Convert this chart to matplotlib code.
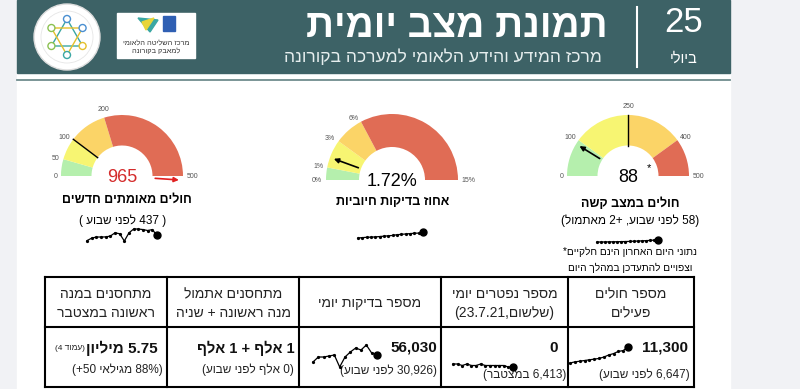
import re
import numpy as np
import matplotlib
matplotlib.use('Agg')
import matplotlib.pyplot as plt
from matplotlib.patches import Rectangle, Circle, Polygon

plt.rcParams['font.family'] = ['Liberation Sans', 'DejaVu Sans']

# ---------------- data ----------------
report_day = '25'
report_month = 'ביולי'
title = 'תמונת מצב יומית'
subtitle = 'מרכז המידע והידע הלאומי למערכה בקורונה'
logo_text = ['מרכז השליטה הלאומי', 'למאבק בקורונה']

# gauges: tick values and the dial angle (deg, 180 = left end) of each tick
cases_ticks = [0, 50, 100, 200, 500]
cases_angles = [180, 164, 143, 107, 0]
cases_value = 965
cases_mark = 100
cases_title = 'חולים מאומתים חדשים'
cases_sub = '( 437 לפני שבוע )'
cases_trend = [290, 420, 480, 480, 485, 530, 700, 650, 270, 700, 900, 900, 870, 820, 870, 560]

pos_ticks = [0, 1, 3, 6, 15]
pos_tick_labels = ['0%', '1%', '3%', '6%', '15%']
pos_angles = [180, 169, 144, 118, 0]
pos_value = 1.72
pos_title = 'אחוז בדיקות חיוביות'
pos_trend = [0.90, 0.95, 1.00, 1.02, 1.05, 1.10, 1.15, 1.20, 1.25, 1.35, 1.40, 1.45, 1.50, 1.55, 1.57, 1.72]

severe_ticks = [0, 100, 250, 400, 500]
severe_angles = [180, 144, 90, 36, 0]
severe_value = 88
severe_mark = 250
severe_title = 'חולים במצב קשה'
severe_sub = '(58 לפני שבוע, +2 מאתמול)'
severe_trend = [58, 58, 59, 60, 61, 62, 64, 65, 67, 70, 72, 75, 78, 82, 86, 88]
footnote = ['נתוני היום האחרון הינם חלקיים*', 'וצפויים להתעדכן במהלך היום']

# table (columns listed left to right as drawn)
col_heads = [['מתחסנים במנה', 'ראשונה במצטבר'],
             ['מתחסנים אתמול', 'מנה ראשונה + שניה'],
             ['מספר בדיקות יומי'],
             ['מספר נפטרים יומי', '(שלשום,23.7.21)'],
             ['מספר חולים', 'פעילים']]
col_values = ['5.75 מיליון', '1 אלף + 1 אלף', '56,030', '0', '11,300']
col_notes = ['(88% מגילאי 50+)', '(0 אלף לפני שבוע)', '(30,926 לפני שבוע)',
             '(6,413 במצטבר)', '(6,647 לפני שבוע)']
vacc_page = '(עמוד 4)'
tests_trend = [41, 51, 51, 53, 55, 31, 51, 61, 69, 65, 75, 59, 56]
deaths_trend = [2, 2, 1, 2, 1, 1, 2, 1, 1, 1, 1, 1, 0, 0]
active_trend = [5500, 5900, 6150, 6400, 6650, 6900, 7150, 7650, 8400, 8900, 9700, 10000, 11300]

band_colors = ['#b5efad', '#f7f572', '#fbd467', '#e06c55']

# ---------------- helpers ----------------
MIRROR = {'(': ')', ')': '('}


def rtl(s):
    # crude visual reordering for right-to-left text with embedded numbers
    toks = re.findall(r'\d(?:[\d.,]*\d)?%?|[A-Za-z]+|.', s)
    out = []
    for t in reversed(toks):
        if t[0].isascii() and t[0].isalnum():
            out.append(t)
        else:
            out.append(MIRROR.get(t, t))
    return ''.join(out)


W, H = 800, 389
fig = plt.figure(figsize=(W / 100, H / 100), dpi=100)
ax = fig.add_axes([0, 0, 1, 1])
ax.set_xlim(0, W)
ax.set_ylim(H, 0)
ax.axis('off')


def gauge(cx, cy, R, ticks, angles, value, text, labels=None, mark=None,
          needle='black', vcolor='black'):
    gx = fig.add_axes([(cx - 1.4 * R) / W, (H - cy - 0.4 * R) / H, 2.8 * R / W, 1.6 * R / H])
    spans = list(-np.diff(angles))
    gx.pie(spans + [180], startangle=180, counterclock=False, radius=1,
           colors=band_colors + ['none'], wedgeprops=dict(width=0.5, linewidth=0), frame=True)
    gx.set_xlim(-1.4, 1.4)
    gx.set_ylim(-0.4, 1.2)
    gx.axis('off')
    labels = labels or [str(t) for t in ticks]
    for lab, a in zip(labels, angles):
        c, s = np.cos(np.radians(a)), np.sin(np.radians(a))
        ha = 'right' if c < -0.3 else ('left' if c > 0.3 else 'center')
        va = 'bottom' if s > 0.9 else 'center'
        gx.text(1.06 * c, 1.06 * s + (0.02 if va == 'bottom' else 0), lab, ha=ha, va=va,
                fontsize=5, color='#555555')
    if mark is not None:
        a = np.radians(np.interp(mark, ticks, angles))
        gx.plot([0.5 * np.cos(a), np.cos(a)], [0.5 * np.sin(a), np.sin(a)], color='black', lw=1)
    a = np.interp(value, ticks, angles)
    if value > ticks[-1]:
        a = -4
    a = np.radians(a)
    gx.annotate('', xy=(0.98 * np.cos(a), 0.98 * np.sin(a)),
                xytext=(0.5 * np.cos(a), 0.5 * np.sin(a)),
                arrowprops=dict(arrowstyle='-|>', color=needle, lw=1.2, mutation_scale=7))
    gx.text(0, -0.02, text, ha='center', va='center', fontsize=13, color=vcolor)
    return gx


def spark(x0, x1, ytop, ybot, values):
    sx = fig.add_axes([x0 / W, 1 - ybot / H, (x1 - x0) / W, max(ybot - ytop, 1) / H])
    n = len(values)
    sx.plot(range(n), values, color='black', lw=0.9, marker='o', ms=1.3, clip_on=False)
    sx.plot([n - 1], [values[-1]], 'o', color='black', ms=5, clip_on=False)
    sx.set_xlim(0, n - 1)
    sx.set_ylim(min(values), max(values))
    sx.axis('off')


# ---------------- background / header ----------------
ax.add_patch(Rectangle((0, 0), W, H, color='#f1f2f5', zorder=0))
ax.add_patch(Rectangle((17, 0), 713, H, color='white', zorder=0))
ax.add_patch(Rectangle((17, 0), 713, 73, color='#3d6266', zorder=1))
ax.plot([17, 730], [80, 80], color='#6f8c8e', lw=1.3)

ax.text(684, 22, report_day, color='white', fontsize=25, ha='center', va='center')
ax.text(684, 59, rtl(report_month), color='white', fontsize=10.5, ha='center', va='center')
ax.plot([637, 637], [7, 67], color='white', lw=1.5)
ax.text(608, 27, rtl(title), color='white', fontsize=28, fontweight='bold', ha='right', va='center')
ax.text(602, 57, rtl(subtitle), color='#e6eeee', fontsize=12.5, ha='right', va='center')

# logos
ax.add_patch(Rectangle((117, 13), 78, 45, color='white', zorder=2))
ax.add_patch(Rectangle((163, 16), 12, 15, color='#2f5fb3', zorder=3))
ax.add_patch(Polygon([[138, 18], [158, 20], [150, 32]], closed=True, color='#3aa7a3', zorder=3))
ax.add_patch(Polygon([[142, 22], [154, 18], [146, 30]], closed=True, color='#e8d53a', zorder=3))
ax.text(156, 43, rtl(logo_text[0]), fontsize=5.3, ha='center', va='center', color='#333333', zorder=3)
ax.text(156, 51, rtl(logo_text[1]), fontsize=5.3, ha='center', va='center', color='#333333', zorder=3)

ax.add_patch(Circle((67, 37), 33, color='white', ec='#dddddd', zorder=2))
ax.add_patch(Circle((67, 37), 26, fill=False, ec='#e6e6e6', lw=0.6, zorder=3))
node_cols = ['#4a8fd1', '#8cc152', '#e5c02b', '#3aa7a3', '#4a8fd1', '#8cc152']
for k in range(2):
    pts = [(67 + 18 * np.cos(np.radians(90 + 180 * k + 120 * j)),
            37 - 18 * np.sin(np.radians(90 + 180 * k + 120 * j))) for j in range(3)]
    ax.add_patch(Polygon(pts, closed=True, fill=False, ec=node_cols[3 - k], lw=1, zorder=3))
    for j, p in enumerate(pts):
        ax.add_patch(Circle(p, 3.5, fc='white', ec=node_cols[k * 3 + j], lw=1, zorder=4))

# ---------------- gauges ----------------
gauge(122, 176, 61, cases_ticks, cases_angles, cases_value, str(cases_value),
      mark=cases_mark, needle='#e02020', vcolor='#d42b2b')
ax.text(127, 200, rtl(cases_title), fontsize=9, fontweight='bold', ha='center', va='center')
ax.text(123, 221, rtl(cases_sub), fontsize=8.5, ha='center', va='center')
spark(87, 157, 229, 241, cases_trend)

gauge(392, 180, 66, pos_ticks, pos_angles, pos_value, f'{pos_value}%', labels=pos_tick_labels)
ax.text(393, 202, rtl(pos_title), fontsize=9, fontweight='bold', ha='center', va='center')
spark(358, 423, 232, 238, pos_trend)

gauge(628, 176, 61, severe_ticks, severe_angles, severe_value, str(severe_value), mark=severe_mark)
ax.text(649, 168, '*', fontsize=8, ha='center', va='center')
ax.text(630, 204, rtl(severe_title), fontsize=9, fontweight='bold', ha='center', va='center')
ax.text(630, 221, rtl(severe_sub), fontsize=8.5, ha='center', va='center')
spark(597, 658, 240, 242, severe_trend)
ax.text(630, 252, rtl(footnote[0]), fontsize=7.3, ha='center', va='center')
ax.text(630, 268, rtl(footnote[1]), fontsize=7.3, ha='center', va='center')

# ---------------- table ----------------
col_x = [45, 167, 299, 441, 568, 694]
row_y = [277, 327, 387]
for x in col_x:
    ax.plot([x, x], [row_y[0], row_y[-1]], color='black', lw=1.5)
for y in row_y:
    ax.plot([col_x[0], col_x[-1]], [y, y], color='black', lw=1.5)

for i, head in enumerate(col_heads):
    cx = (col_x[i] + col_x[i + 1]) / 2
    if len(head) == 1:
        ax.text(cx, 303, rtl(head[0]), fontsize=10, ha='center', va='center', color='#222222')
    else:
        ax.text(cx, 294, rtl(head[0]), fontsize=10, ha='center', va='center', color='#222222')
        ax.text(cx, 313, rtl(head[1]), fontsize=10, ha='center', va='center', color='#222222')

val_x = [158, 246, 437, 558, 688]
val_ha = ['right', 'center', 'right', 'right', 'right']
val_fs = [11, 10.5, 11, 11, 11]
note_x = [163, 248, 437, 566, 690]
note_y = [370, 370, 371, 375, 375]
note_ha = ['right', 'center', 'right', 'right', 'right']
for i in range(5):
    ax.text(val_x[i], 348, rtl(col_values[i]), fontsize=val_fs[i], fontweight='bold',
            ha=val_ha[i], va='center', color='#111111')
    ax.text(note_x[i], note_y[i], rtl(col_notes[i]), fontsize=8.5, ha=note_ha[i], va='center',
            color='#222222')
ax.text(85, 349, rtl(vacc_page), fontsize=6, ha='right', va='center', color='#222222')

spark(313, 377, 345, 367, tests_trend)
spark(453, 513, 364, 367, deaths_trend)
spark(570, 628, 347, 363, active_trend)

fig.savefig('out.png', dpi=100)
